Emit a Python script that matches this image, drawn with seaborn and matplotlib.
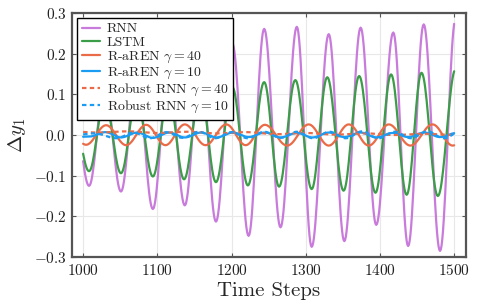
import matplotlib.pyplot as plt
import numpy as np
import pandas as pd
import seaborn as sns

# peaks / troughs (time step, value)
rnn_t = [985, 1008, 1029, 1051, 1072, 1094, 1115, 1137, 1158, 1179, 1201, 1223, 1244,
         1266, 1288, 1308, 1331, 1352, 1374, 1395, 1418, 1438, 1459, 1481, 1502]
rnn_v = [0.10, -0.125, 0.12, -0.139, 0.145, -0.182, 0.165, -0.173, 0.185, -0.213, 0.225,
         -0.248, 0.261, -0.227, 0.266, -0.275, 0.248, -0.261, 0.264, -0.221, 0.252,
         -0.273, 0.272, -0.285, 0.286]

lstm_t = [985, 1008, 1029, 1051, 1072, 1094, 1115, 1136, 1158, 1179, 1201, 1222, 1244,
          1264, 1286, 1308, 1329, 1351, 1372, 1394, 1415, 1436, 1456, 1478, 1502]
lstm_v = [0.07, -0.089, 0.085, -0.094, 0.092, -0.102, 0.10, -0.109, 0.108, -0.116, 0.118,
          -0.124, 0.130, -0.127, 0.135, -0.133, 0.142, -0.137, 0.145, -0.142, 0.149,
          -0.147, 0.153, -0.150, 0.162]

raren40_t = [977, 1004, 1031, 1058, 1085, 1111, 1137, 1165, 1193, 1219, 1245, 1275,
             1304, 1331, 1358, 1385, 1412, 1441, 1471, 1498, 1525]
raren40_v = [0.022, -0.024, 0.024, -0.025, 0.025, -0.025, 0.026, -0.025, 0.026, -0.025,
             0.025, -0.026, 0.026, -0.026, 0.026, -0.026, 0.026, -0.026, 0.026, -0.026, 0.026]

raren10_t = [987, 1008, 1030, 1051, 1073, 1094, 1116, 1137, 1159, 1180, 1202, 1223, 1245,
             1266, 1288, 1309, 1331, 1352, 1374, 1395, 1417, 1438, 1460, 1481, 1503]
raren10_v = [-0.005, -0.004, 0.007, -0.006, 0.006, -0.007, 0.006, -0.006, 0.006, -0.006,
             0.006, -0.005, 0.006, -0.006, 0.005, -0.006, 0.006, -0.005, 0.006, -0.006,
             0.005, -0.005, 0.006, -0.005, 0.005]

rrnn40_t = [980, 1020, 1060, 1100, 1140, 1180, 1220, 1260, 1300, 1340, 1380, 1420, 1460, 1500]
rrnn40_v = [0.009, 0.006, 0.009, 0.005, 0.008, 0.004, 0.007, 0.002, 0.005, 0.001, 0.004,
            0.0, 0.003, 0.0]

rrnn10_t = [990, 1015, 1045, 1068, 1090, 1112, 1134, 1156, 1178, 1200, 1222, 1244, 1266,
            1288, 1310, 1332, 1354, 1376, 1398, 1420, 1442, 1464, 1486, 1508]
rrnn10_v = [0.0, 0.004, -0.008, 0.006, -0.008, 0.007, -0.007, 0.008, -0.008, 0.007,
            -0.008, 0.008, -0.007, 0.008, -0.008, 0.008, -0.008, 0.009, -0.008, 0.008,
            -0.008, 0.009, -0.008, 0.008]

steps = np.arange(1000, 1501)


def trace(times, values):
    # smooth half-cosine swing between the read extrema
    times = np.asarray(times, float)
    values = np.asarray(values, float)
    i = np.clip(np.searchsorted(times, steps, side="right") - 1, 0, len(times) - 2)
    s = (steps - times[i]) / (times[i + 1] - times[i])
    return values[i] + (values[i + 1] - values[i]) * (1 - np.cos(np.pi * s)) / 2


labels = ["RNN", "LSTM", r"R-aREN $\gamma=40$", r"R-aREN $\gamma=10$",
          r"Robust RNN $\gamma=40$", r"Robust RNN $\gamma=10$"]
series = [(rnn_t, rnn_v), (lstm_t, lstm_v), (raren40_t, raren40_v),
          (raren10_t, raren10_v), (rrnn40_t, rrnn40_v), (rrnn10_t, rrnn10_v)]
colors = ["#c97bdc", "#3c9d48", "#ea6b47", "#1a9cf3", "#ea6b47", "#1a9cf3"]

df = pd.concat(
    [pd.DataFrame({"step": steps, "dy": trace(t, v), "model": name})
     for name, (t, v) in zip(labels, series)],
    ignore_index=True,
)

sns.set_theme(style="whitegrid")
plt.rcParams.update({
    "font.family": ["cmr10"],
    "mathtext.fontset": "cm",
    "axes.formatter.use_mathtext": True,
    "grid.color": "#e8e8e8",
    "grid.linewidth": 0.8,
})

fig = plt.figure(figsize=(4.79, 3.08), dpi=100)
ax = fig.add_axes([0.1503, 0.1656, 0.8226, 0.7922])

sns.lineplot(
    data=df, x="step", y="dy", hue="model", style="model", ax=ax,
    palette=dict(zip(labels, colors)),
    dashes=dict(zip(labels, ["", "", "", "", (2, 1.5), (2, 1.5)])),
    linewidth=1.6, sort=False,
)

ax.set_xlim(985, 1516)
ax.set_ylim(-0.3, 0.3)
ax.set_xticks([1000, 1100, 1200, 1300, 1400, 1500])
ax.set_yticks([-0.3, -0.2, -0.1, 0.0, 0.1, 0.2, 0.3])
ax.set_xlabel("Time Steps", fontsize=15, labelpad=3)
ax.set_ylabel(r"$\Delta y_1$", fontsize=15, labelpad=4)
ax.tick_params(direction="in", length=3, width=0.8, colors="#555555",
               labelcolor="#222222", labelsize=11, top=True, right=True,
               bottom=True, left=True, pad=4)
for sp in ax.spines.values():
    sp.set_color("#555555")
    sp.set_linewidth(1.6)

handles, _ = ax.get_legend_handles_labels()
leg = ax.legend(handles, labels, loc="upper left", fontsize=10, frameon=True,
                fancybox=False, edgecolor="black", framealpha=1, handlelength=1.3,
                labelspacing=0.06, borderaxespad=0.35, borderpad=0.35,
                handletextpad=0.5)
leg.get_frame().set_linewidth(1.0)

fig.savefig("out.png", dpi=100)
